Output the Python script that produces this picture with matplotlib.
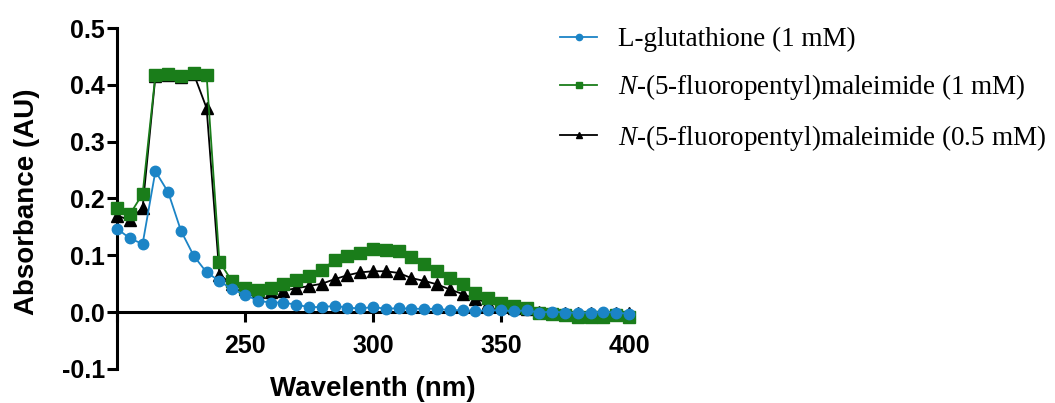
import matplotlib
matplotlib.use("Agg")
import matplotlib.pyplot as plt
from matplotlib.ticker import FuncFormatter

wavelength = list(range(200, 405, 5))

glutathione_1mM = [0.147, 0.130, 0.120, 0.248, 0.211, 0.143, 0.099, 0.070, 0.055, 0.040,
                   0.031, 0.020, 0.017, 0.017, 0.013, 0.009, 0.009, 0.011, 0.008, 0.0065,
                   0.009, 0.006, 0.007, 0.006, 0.006, 0.006, 0.0035, 0.0035, 0.002, 0.0035,
                   0.003, 0.002, 0.003, -0.0006, 0.001, -0.0006, -0.001, -0.0006, 0.0003, -0.0006,
                   -0.003]

maleimide_1mM = [0.183, 0.172, 0.208, 0.417, 0.419, 0.415, 0.421, 0.417, 0.089, 0.054,
                 0.042, 0.039, 0.043, 0.049, 0.057, 0.064, 0.075, 0.091, 0.098, 0.104,
                 0.112, 0.109, 0.107, 0.097, 0.085, 0.072, 0.060, 0.050, 0.033, 0.025,
                 0.017, 0.011, 0.007, -0.001, -0.004, -0.005, -0.008, -0.008, -0.008, -0.005,
                 -0.008]

maleimide_05mM = [0.170, 0.162, 0.184, 0.415, 0.417, 0.414, 0.419, 0.359, 0.066, 0.049,
                  0.040, 0.036, 0.036, 0.038, 0.042, 0.046, 0.050, 0.058, 0.065, 0.070,
                  0.072, 0.072, 0.069, 0.060, 0.055, 0.049, 0.040, 0.032, 0.023, 0.017,
                  0.011, 0.008, 0.006, 0.000, -0.001, -0.002, -0.002, -0.002, -0.002, -0.002,
                  -0.002]

labels = ["L-glutathione (1 mM)",
          r"$\it{N}$-(5-fluoropentyl)maleimide (1 mM)",
          r"$\it{N}$-(5-fluoropentyl)maleimide (0.5 mM)"]

x_ticks = [200, 250, 300, 350, 400]
x_ticklabels = ["", "250", "300", "350", "400"]
y_ticks = [-0.1, 0.0, 0.1, 0.2, 0.3, 0.4, 0.5]

plt.rcParams['mathtext.fontset'] = 'custom'
plt.rcParams['mathtext.rm'] = 'Liberation Serif'
plt.rcParams['mathtext.it'] = 'Liberation Serif:italic'

BLUE = '#1b84c6'
GREEN = '#1a7d1a'

fig = plt.figure(figsize=(10.55, 4.03), dpi=100)
ax = fig.add_axes([117/1055, 1 - 369/403, (629 - 117)/1055, (369 - 28)/403])

l3, = ax.plot(wavelength, maleimide_05mM, color='black', marker='^', markersize=8,
              lw=1.3, zorder=3, clip_on=False)
l2, = ax.plot(wavelength, maleimide_1mM, color=GREEN, marker='s', markersize=8,
              lw=1.3, zorder=4, clip_on=False)
l1, = ax.plot(wavelength, glutathione_1mM, color=BLUE, marker='o', markersize=7.5,
              lw=1.3, zorder=5, clip_on=False)

ax.set_xlim(200, 400)
ax.set_ylim(-0.1, 0.5)
ax.spines['top'].set_visible(False)
ax.spines['right'].set_visible(False)
ax.spines['bottom'].set_position(('data', 0))
for s in ('left', 'bottom'):
    ax.spines[s].set_linewidth(2.2)
ax.set_xticks(x_ticks)
ax.set_xticklabels(x_ticklabels)
ax.set_yticks(y_ticks)
ax.yaxis.set_major_formatter(FuncFormatter(lambda v, p: f"{v:.1f}".replace("\u2212", "-")))
ax.tick_params(direction='out', length=7.5, width=2.2, labelsize=18)
ax.tick_params(axis='x', pad=8)
ax.tick_params(axis='y', pad=1)
for lab in ax.get_xticklabels() + ax.get_yticklabels():
    lab.set_fontfamily('Liberation Sans')
    lab.set_fontweight('bold')

ax.set_ylabel("Absorbance (AU)", fontsize=20, fontweight='bold', family='Liberation Sans')
ax.yaxis.set_label_coords((40 - 117) / 512, 0.49)
fig.text(373 / 1055, 1 - 389 / 403, "Wavelenth (nm)", fontsize=20,
         fontweight='bold', family='Liberation Sans', ha='center', va='center')

leg = fig.legend([l1, l2, l3], labels, loc='upper left', bbox_to_anchor=(560/1055, 1 - 27/403),
                 frameon=False, prop={'family': 'Liberation Serif', 'size': 19.5},
                 borderpad=0, borderaxespad=0,
                 handlelength=1.37, handletextpad=0.78, labelspacing=0.75, markerscale=0.6)

fig.savefig("out.png", dpi=100)
